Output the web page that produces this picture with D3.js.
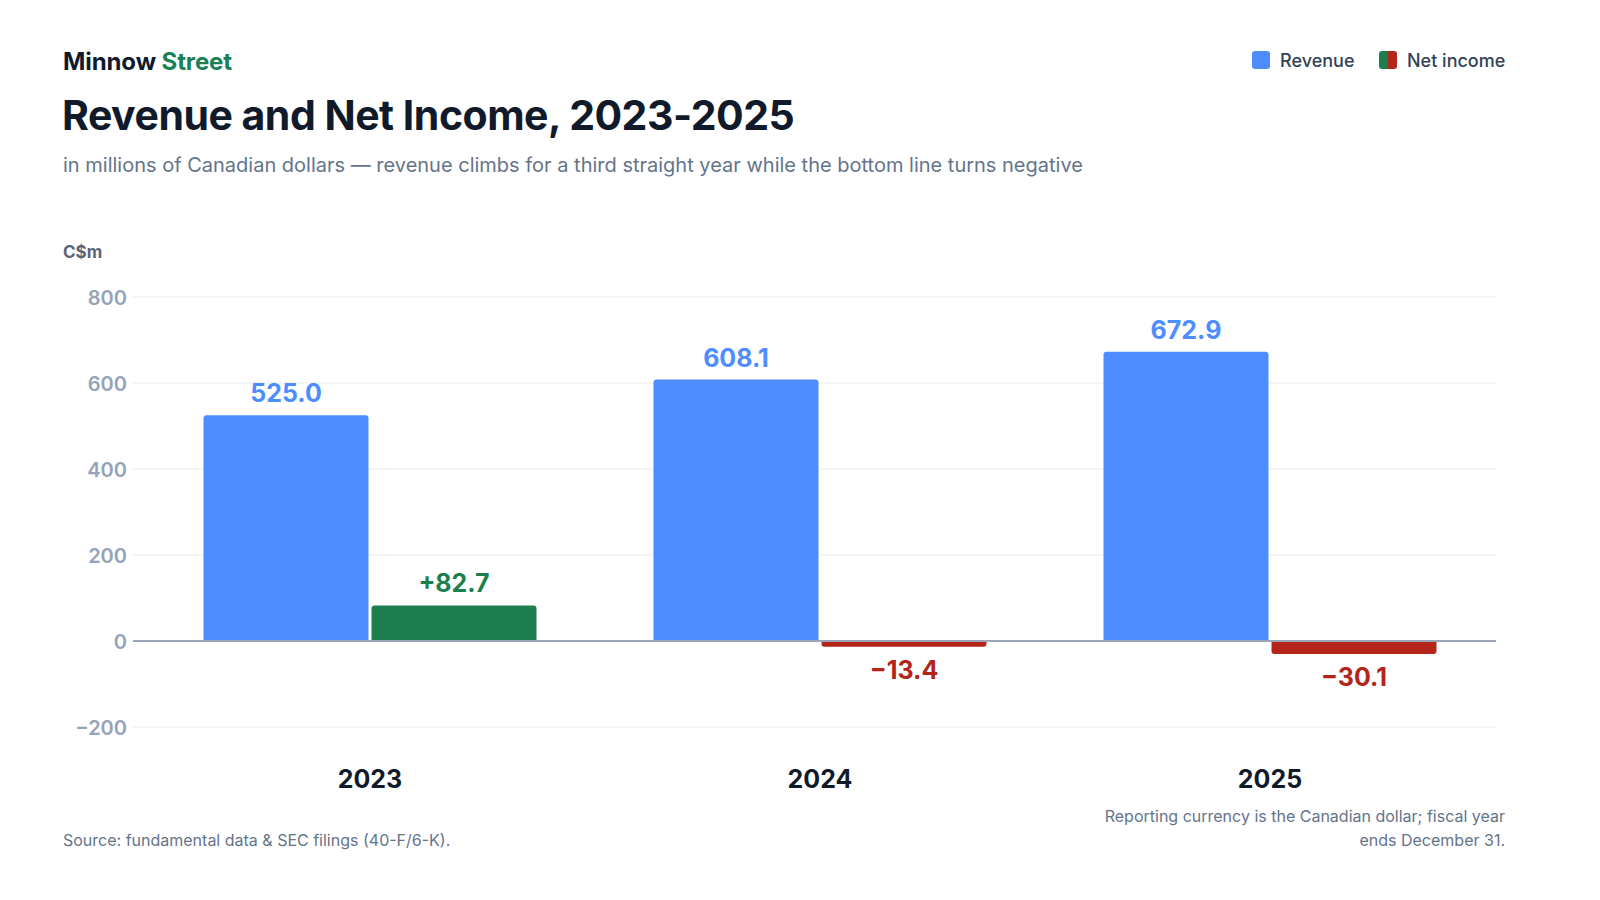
<!DOCTYPE html>
<html><head><meta charset="utf-8">
<script src="https://cdn.jsdelivr.net/npm/d3@7"></script>
<style>
html,body{margin:0;padding:0;background:#fff;}
svg{display:block;font-family:Inter,"Noto Sans",sans-serif;}
</style></head>
<body>
<svg id="chart" width="1600" height="900"></svg>
<script>
const years = ["2023", "2024", "2025"];
const revenue = [525.0, 608.1, 672.9];
const netIncome = [82.7, -13.4, -30.1];
const yTicks = [-200, 0, 200, 400, 600, 800];
const seriesKeys = ["Revenue", "Net income"];

const colors = { rev: "#4d8dff", pos: "#1d7f4d", neg: "#b3241b" };

const svg = d3.select("#chart");

// Header
const brand = svg.append("text").attr("x", 63).attr("y", 70)
  .attr("font-size", 24).attr("font-weight", 700).attr("letter-spacing", -0.1);
brand.append("tspan").attr("fill", "#111a2b").text("Minnow ");
brand.append("tspan").attr("fill", "#1a8057").text("Street");

svg.append("text").attr("x", 62).attr("y", 130)
  .attr("font-size", 41).attr("font-weight", 700).attr("fill", "#111a2b")
  .attr("letter-spacing", -0.5)
  .text("Revenue and Net Income, 2023-2025");

svg.append("text").attr("x", 63).attr("y", 172)
  .attr("font-size", 20).attr("fill", "#64748b")
  .text("in millions of Canadian dollars \u2014 revenue climbs for a third straight year while the bottom line turns negative");

// Legend
const lg = svg.append("g");
lg.append("rect").attr("x", 1252).attr("y", 51).attr("width", 18).attr("height", 18).attr("rx", 3).attr("fill", colors.rev);
lg.append("text").attr("x", 1280).attr("y", 66.5).attr("font-size", 18).attr("font-weight", 500).attr("fill", "#334155").text(seriesKeys[0]);
lg.append("clipPath").attr("id", "lgclip").append("rect").attr("x", 1379).attr("y", 51).attr("width", 18).attr("height", 18).attr("rx", 3);
const lg2 = lg.append("g").attr("clip-path", "url(#lgclip)");
lg2.append("rect").attr("x", 1379).attr("y", 51).attr("width", 9).attr("height", 18).attr("fill", colors.pos);
lg2.append("rect").attr("x", 1388).attr("y", 51).attr("width", 9).attr("height", 18).attr("fill", colors.neg);
lg.append("text").attr("x", 1407).attr("y", 66.5).attr("font-size", 18).attr("font-weight", 500).attr("fill", "#334155").text(seriesKeys[1]);

// Scales
const y = d3.scaleLinear().domain([-200, 800]).range([727, 297]);
const x0 = d3.scaleBand().domain(years).range([145, 1495]).paddingInner(0.26).paddingOuter(0.13);
const x1 = d3.scaleBand().domain(["rev", "net"]).range([0, x0.bandwidth()]).paddingInner(0.018);

// Unit label
svg.append("text").attr("x", 63).attr("y", 258).attr("font-size", 17).attr("font-weight", 700)
  .attr("fill", "#5b6577").text("C$m");

// Grid + y axis
const gridL = 133, gridR = 1496;
const yAxis = d3.axisLeft(y).tickValues(yTicks).tickSize(0).tickPadding(0)
  .tickFormat(d => d < 0 ? "\u2212" + Math.abs(d) : String(d));
const ya = svg.append("g").attr("transform", `translate(${gridL - 6},0)`).call(yAxis);
ya.select(".domain").remove();
ya.selectAll("text").attr("font-size", 20).attr("font-weight", 600).attr("fill", "#94a3b8")
  .attr("font-family", "Inter").attr("dy", "0.35em");

svg.append("g").selectAll("line").data(yTicks.filter(d => d !== 0)).join("line")
  .attr("x1", gridL).attr("x2", gridR)
  .attr("y1", d => y(d)).attr("y2", d => y(d))
  .attr("stroke", "#e8ebf0").attr("stroke-width", 1.2);

// Bars
function barPath(x, w, v) {
  const y0 = y(0), y1 = y(v), r = Math.min(3, Math.abs(y1 - y0));
  if (v >= 0) {
    return `M${x},${y0}V${y1 + r}Q${x},${y1} ${x + r},${y1}H${x + w - r}Q${x + w},${y1} ${x + w},${y1 + r}V${y0}Z`;
  } else {
    return `M${x},${y0}V${y1 - r}Q${x},${y1} ${x + r},${y1}H${x + w - r}Q${x + w},${y1} ${x + w},${y1 - r}V${y0}Z`;
  }
}

const rows = years.map((yr, i) => ({ yr, rev: revenue[i], net: netIncome[i] }));
const g = svg.append("g");
rows.forEach(d => {
  const gx = x0(d.yr);
  const xr = gx + x1("rev"), xn = gx + x1("net"), w = x1.bandwidth();
  g.append("path").attr("d", barPath(xr, w, d.rev)).attr("fill", colors.rev);
  g.append("path").attr("d", barPath(xn, w, d.net)).attr("fill", d.net >= 0 ? colors.pos : colors.neg);
  g.append("text").attr("x", xr + w / 2).attr("y", y(d.rev) - 13)
    .attr("text-anchor", "middle").attr("font-size", 25).attr("font-weight", 700)
    .attr("fill", colors.rev).text(d.rev.toFixed(1));
  const nl = d.net >= 0 ? "+" + d.net.toFixed(1) : "\u2212" + Math.abs(d.net).toFixed(1);
  g.append("text").attr("x", xn + w / 2).attr("y", d.net >= 0 ? y(d.net) - 13 : y(d.net) + 32)
    .attr("text-anchor", "middle").attr("font-size", 25).attr("font-weight", 700)
    .attr("fill", d.net >= 0 ? colors.pos : colors.neg).text(nl);
});

// Zero line
svg.append("line").attr("x1", gridL).attr("x2", gridR).attr("y1", y(0)).attr("y2", y(0))
  .attr("stroke", "#9aa5b8").attr("stroke-width", 2);

// X axis
const xAxis = d3.axisBottom(x0).tickSize(0).tickPadding(0);
const xa = svg.append("g").attr("transform", "translate(0,788)").call(xAxis);
xa.select(".domain").remove();
xa.selectAll("text").attr("font-size", 25).attr("font-weight", 700).attr("fill", "#111a2b")
  .attr("font-family", "Inter").attr("dy", 0);

// Footer
svg.append("text").attr("x", 63).attr("y", 846).attr("font-size", 16).attr("fill", "#64748b")
  .text("Source: fundamental data & SEC filings (40-F/6-K).");
const note = svg.append("text").attr("text-anchor", "end").attr("font-size", 16).attr("fill", "#64748b");
note.append("tspan").attr("x", 1505).attr("y", 822).text("Reporting currency is the Canadian dollar; fiscal year");
note.append("tspan").attr("x", 1505).attr("y", 846).text("ends December 31.");
</script>
</body></html>
